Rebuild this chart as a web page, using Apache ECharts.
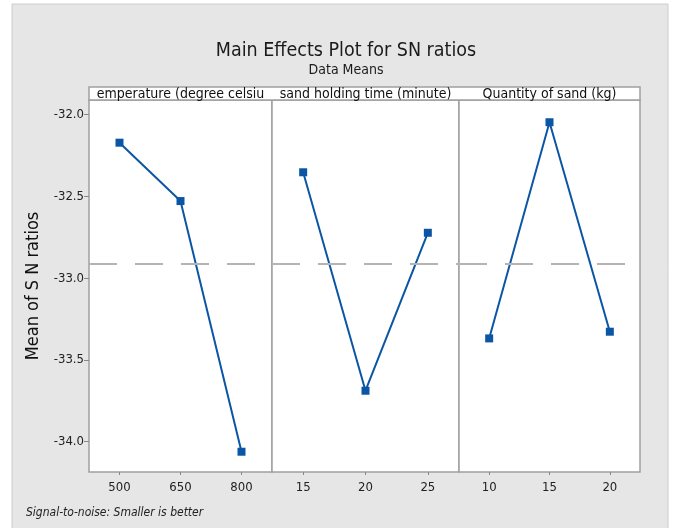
<!DOCTYPE html>
<html>
<head>
<meta charset="utf-8">
<script src="https://cdn.jsdelivr.net/npm/echarts@6/dist/echarts.min.js"></script>
<style>html,body{margin:0;padding:0;background:#fff}#c{width:678px;height:528px}</style>
</head>
<body>
<div id="c"></div>
<script>
const tempCats = ['500', '650', '800'];
const tempVals = [-32.171, -32.528, -34.061];
const timeCats = ['15', '20', '25'];
const timeVals = [-32.352, -33.688, -32.722];
const sandCats = ['10', '15', '20'];
const sandVals = [-33.368, -32.046, -33.327];
const meanSN = -32.909;
const yTicks = [-34.0, -33.5, -33.0, -32.5, -32.0];
const panelTitles = ['emperature (degree celsiu', 'sand holding time (minute)', 'Quantity of sand (kg)'];

const FONT = "'Liberation Sans Narrow', 'DejaVu Sans Condensed', sans-serif";
const panels = [
  {cats: tempCats, vals: tempVals, left: 89, width: 183},
  {cats: timeCats, vals: timeVals, left: 272, width: 187},
  {cats: sandCats, vals: sandVals, left: 459, width: 181}
];
const YMIN = -34.185, YMAX = -31.91;

const chart = echarts.init(document.getElementById('c'));
const grids = [], xAxes = [], yAxes = [], series = [];
panels.forEach((p, i) => {
  grids.push({left: p.left, width: p.width, top: 100, bottom: 56, show: true,
    backgroundColor: '#fff', borderColor: '#a0a0a0', borderWidth: 1.5});
  xAxes.push({type: 'category', gridIndex: i, data: p.cats, boundaryGap: true,
    axisLine: {show: false},
    axisTick: {show: true, alignWithLabel: true, length: 3, lineStyle: {color: '#888'}},
    axisLabel: {fontFamily: FONT, fontSize: 13, color: '#222', margin: 9},
    splitLine: {show: false}});
  yAxes.push({type: 'value', gridIndex: i, min: YMIN, max: YMAX,
    axisLine: {show: false},
    axisTick: {show: i === 0, length: 5, customValues: yTicks, lineStyle: {color: '#888'}},
    axisLabel: {show: i === 0, customValues: yTicks, formatter: v => v.toFixed(1),
      fontFamily: FONT, fontSize: 13, color: '#222', margin: 5},
    splitLine: {show: false},
    name: i === 0 ? 'Mean of S N ratios' : '', nameLocation: 'middle', nameGap: 47,
    nameTextStyle: {fontFamily: FONT, fontSize: 18, color: '#111'}});
  series.push({type: 'line', xAxisIndex: i, yAxisIndex: i, data: p.vals,
    symbol: 'rect', symbolSize: 8,
    itemStyle: {color: '#0b56a4'}, lineStyle: {color: '#0b56a4', width: 2},
    markLine: {silent: true, symbol: 'none', label: {show: false},
      lineStyle: {type: [28, 18], color: '#b4b4b4', width: 2},
      data: [{yAxis: meanSN}]}});
});

const graphic = [
  {type: 'rect', z: -10, shape: {x: 12, y: 4, width: 656, height: 530},
    style: {fill: '#e6e6e6', stroke: '#cccccc', lineWidth: 1}},
  {type: 'rect', shape: {x: 89, y: 87, width: 551, height: 13},
    style: {fill: '#fff', stroke: '#a0a0a0', lineWidth: 1.5}},
  {type: 'text', x: 26, y: 513, style: {text: 'Signal-to-noise: Smaller is better',
    font: "italic 12px " + FONT, fill: '#222', textVerticalAlign: 'middle'}}
];
panels.forEach((p, i) => {
  graphic.push({type: 'text', x: p.left + p.width / 2, y: 94,
    style: {text: panelTitles[i], font: "14px " + FONT, fill: '#111',
      textAlign: 'center', textVerticalAlign: 'middle'}});
});

chart.setOption({
  backgroundColor: '#fff',
  animation: false,
  title: {text: 'Main Effects Plot for SN ratios', subtext: 'Data Means',
    left: 341, textAlign: 'center', top: 36, itemGap: 2,
    textStyle: {fontFamily: FONT, fontSize: 19.5, fontWeight: 'normal', color: '#1a1a1a'},
    subtextStyle: {fontFamily: FONT, fontSize: 14, color: '#1a1a1a'}},
  grid: grids, xAxis: xAxes, yAxis: yAxes, series: series, graphic: graphic
});
</script>
</body>
</html>
